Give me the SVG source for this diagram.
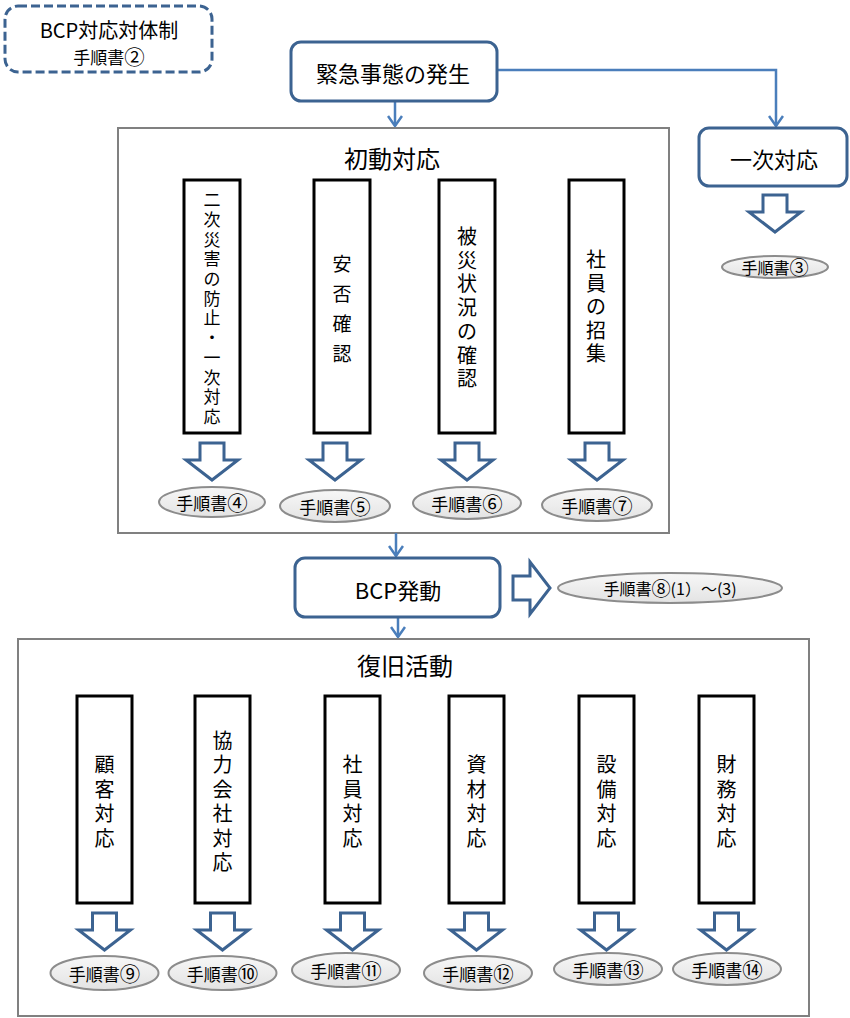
<svg xmlns="http://www.w3.org/2000/svg" width="850" height="1018" viewBox="0 0 850 1018">
<style>
text{font-family:"Noto Sans CJK JP","Noto Sans",sans-serif;fill:#000;}
.c{text-anchor:middle;dominant-baseline:central;}
.rb{fill:#fff;stroke:#3c6391;stroke-width:3;}
.frame{fill:#fff;stroke:#808080;stroke-width:2;}
.col{fill:#fff;stroke:#000;stroke-width:3;}
.ell{fill:url(#eg);stroke:#8c8c8c;stroke-width:2;}
.ha{fill:#fff;stroke:#3c6391;stroke-width:3;stroke-linejoin:miter;}
.conn{fill:none;stroke:#4a7ebb;stroke-width:2.5;}
.cn{font-size:1.2em;}
.t24{font-size:24px;}
.t22{font-size:22px;}
.t20{font-size:20px;}
.t19{font-size:19px;}
.t17{font-size:17px;}
.t16{font-size:16px;}
</style>
<defs>
<linearGradient id="eg" x1="0" y1="0" x2="0" y2="1">
<stop offset="0" stop-color="#f7f7f7"/>
<stop offset="1" stop-color="#e3e3e3"/>
</linearGradient>
<path id="down" class="ha" d="M-12,0 H12 V17 H26 L0,37 L-26,17 H-12 Z"/>
<marker id="v" viewBox="0 0 12 16" refX="11" refY="8" markerWidth="12" markerHeight="16" markerUnits="userSpaceOnUse" orient="auto">
<path d="M1,1 L11,8 L1,15" fill="none" stroke="#4a7ebb" stroke-width="2.5"/>
</marker>
</defs>
<rect width="850" height="1018" fill="#fff"/>

<g id="frame-shodo">
<rect class="frame" x="118" y="128" width="551" height="405"/>
<text class="c t24" x="392" y="157">初動対応</text>
</g>
<g id="frame-fukkyu">
<rect class="frame" x="18" y="639" width="791" height="377"/>
<text class="c t24" x="405" y="664">復旧活動</text>
</g>

<g id="connectors">
<path class="conn" d="M395,101 V126" marker-end="url(#v)"/>
<path class="conn" d="M497,70 H776 V126" marker-end="url(#v)"/>
<path class="conn" d="M396,533 V556" marker-end="url(#v)"/>
<path class="conn" d="M398,617 V637" marker-end="url(#v)"/>
</g>

<g id="bcp-taisei">
<rect x="5" y="6" width="207" height="66" rx="13" fill="#fff" stroke="#3c6391" stroke-width="3" stroke-dasharray="9 4"/>
<text class="c t20" x="109" y="29">BCP対応対体制</text>
<text class="c t17" x="109" y="56">手順書<tspan class="cn">②</tspan></text>
</g>

<g id="kinkyu">
<rect class="rb" x="291" y="42" width="206" height="59" rx="10"/>
<text class="c t22" x="393" y="72">緊急事態の発生</text>
</g>

<g id="ichiji">
<rect class="rb" x="699" y="128" width="148" height="58" rx="10"/>
<text class="c t22" x="774" y="158">一次対応</text>
<use href="#down" x="775" y="195"/>
<ellipse class="ell" cx="775" cy="267" rx="53" ry="11"/>
<text class="c t16" x="775" y="267">手順書<tspan class="cn">③</tspan></text>
</g>

<g id="col-niji">
<rect class="col" x="184" y="180" width="56" height="253"/>
<text class="c t17"><tspan x="212" y="198">二</tspan><tspan x="212" y="217.7">次</tspan><tspan x="212" y="237.5">災</tspan><tspan x="212" y="257.2">害</tspan><tspan x="212" y="276.9">の</tspan><tspan x="212" y="296.7">防</tspan><tspan x="212" y="316.4">止</tspan><tspan x="212" y="336.1">・</tspan><tspan x="212" y="355.8">一</tspan><tspan x="212" y="375.6">次</tspan><tspan x="212" y="395.3">対</tspan><tspan x="212" y="415">応</tspan></text>
<use href="#down" x="212" y="443"/>
<ellipse class="ell" cx="212" cy="502" rx="53" ry="15"/>
<text class="c t17" x="212" y="502">手順書<tspan class="cn">④</tspan></text>
</g>

<g id="col-anpi">
<rect class="col" x="314" y="180" width="56" height="253"/>
<text class="c t19"><tspan x="342" y="262">安</tspan><tspan x="342" y="292">否</tspan><tspan x="342" y="322">確</tspan><tspan x="342" y="352">認</tspan></text>
<use href="#down" x="335" y="443"/>
<ellipse class="ell" cx="335" cy="506" rx="55" ry="16"/>
<text class="c t17" x="335" y="506">手順書<tspan class="cn">⑤</tspan></text>
</g>

<g id="col-higai">
<rect class="col" x="439" y="180" width="56" height="253"/>
<text class="c t20"><tspan x="467" y="235">被</tspan><tspan x="467" y="258.7">災</tspan><tspan x="467" y="282.4">状</tspan><tspan x="467" y="306.1">況</tspan><tspan x="467" y="329.8">の</tspan><tspan x="467" y="353.5">確</tspan><tspan x="467" y="377.2">認</tspan></text>
<use href="#down" x="467" y="443"/>
<ellipse class="ell" cx="467" cy="503" rx="54" ry="16"/>
<text class="c t17" x="467" y="503">手順書<tspan class="cn">⑥</tspan></text>
</g>

<g id="col-shoshu">
<rect class="col" x="569" y="180" width="55" height="253"/>
<text class="c t20"><tspan x="596" y="258">社</tspan><tspan x="596" y="281.5">員</tspan><tspan x="596" y="305">の</tspan><tspan x="596" y="328.5">招</tspan><tspan x="596" y="352">集</tspan></text>
<use href="#down" x="597" y="443"/>
<ellipse class="ell" cx="597" cy="505" rx="55" ry="16"/>
<text class="c t17" x="597" y="505">手順書<tspan class="cn">⑦</tspan></text>
</g>

<g id="bcp-hatsudo">
<rect class="rb" x="295" y="558" width="205" height="59" rx="10"/>
<text class="c t22" x="398" y="589">BCP発動</text>
<use href="#down" transform="translate(513,588) rotate(-90)"/>
<ellipse class="ell" cx="670" cy="588" rx="112" ry="15"/>
<text class="c t16" x="670" y="588">手順書<tspan class="cn">⑧</tspan>(1）～(3)</text>
</g>

<g id="col-kokyaku">
<rect class="col" x="77" y="696" width="55" height="207"/>
<text class="c t20"><tspan x="104.5" y="763.3">顧</tspan><tspan x="104.5" y="787.8">客</tspan><tspan x="104.5" y="812.3">対</tspan><tspan x="104.5" y="836.8">応</tspan></text>
<use href="#down" x="104.5" y="913"/>
<ellipse class="ell" cx="104.5" cy="973" rx="54" ry="17"/>
<text class="c t17" x="104.5" y="973">手順書<tspan class="cn">⑨</tspan></text>
</g>

<g id="col-kyoryoku">
<rect class="col" x="195" y="696" width="55" height="207"/>
<text class="c t20"><tspan x="222.5" y="738.8">協</tspan><tspan x="222.5" y="763.3">力</tspan><tspan x="222.5" y="787.8">会</tspan><tspan x="222.5" y="812.3">社</tspan><tspan x="222.5" y="836.8">対</tspan><tspan x="222.5" y="861.3">応</tspan></text>
<use href="#down" x="222.5" y="913"/>
<ellipse class="ell" cx="222.5" cy="973" rx="54" ry="17"/>
<text class="c t17" x="222.5" y="973">手順書<tspan class="cn">⑩</tspan></text>
</g>

<g id="col-shain">
<rect class="col" x="325" y="696" width="55" height="207"/>
<text class="c t20"><tspan x="352.5" y="763.3">社</tspan><tspan x="352.5" y="787.8">員</tspan><tspan x="352.5" y="812.3">対</tspan><tspan x="352.5" y="836.8">応</tspan></text>
<use href="#down" x="352.5" y="913"/>
<ellipse class="ell" cx="346" cy="970" rx="54" ry="17"/>
<text class="c t17" x="346" y="970">手順書<tspan class="cn">⑪</tspan></text>
</g>

<g id="col-shizai">
<rect class="col" x="449" y="696" width="55" height="207"/>
<text class="c t20"><tspan x="476.5" y="763.3">資</tspan><tspan x="476.5" y="787.8">材</tspan><tspan x="476.5" y="812.3">対</tspan><tspan x="476.5" y="836.8">応</tspan></text>
<use href="#down" x="476.5" y="913"/>
<ellipse class="ell" cx="478" cy="973" rx="54" ry="17"/>
<text class="c t17" x="478" y="973">手順書<tspan class="cn">⑫</tspan></text>
</g>

<g id="col-setsubi">
<rect class="col" x="579" y="696" width="55" height="207"/>
<text class="c t20"><tspan x="606.5" y="763.3">設</tspan><tspan x="606.5" y="787.8">備</tspan><tspan x="606.5" y="812.3">対</tspan><tspan x="606.5" y="836.8">応</tspan></text>
<use href="#down" x="606.5" y="913"/>
<ellipse class="ell" cx="608" cy="969" rx="54" ry="16"/>
<text class="c t17" x="608" y="969">手順書<tspan class="cn">⑬</tspan></text>
</g>

<g id="col-zaimu">
<rect class="col" x="699" y="696" width="55" height="207"/>
<text class="c t20"><tspan x="726.5" y="763.3">財</tspan><tspan x="726.5" y="787.8">務</tspan><tspan x="726.5" y="812.3">対</tspan><tspan x="726.5" y="836.8">応</tspan></text>
<use href="#down" x="726.5" y="913"/>
<ellipse class="ell" cx="727" cy="969" rx="54" ry="16"/>
<text class="c t17" x="727" y="969">手順書<tspan class="cn">⑭</tspan></text>
</g>
</svg>
